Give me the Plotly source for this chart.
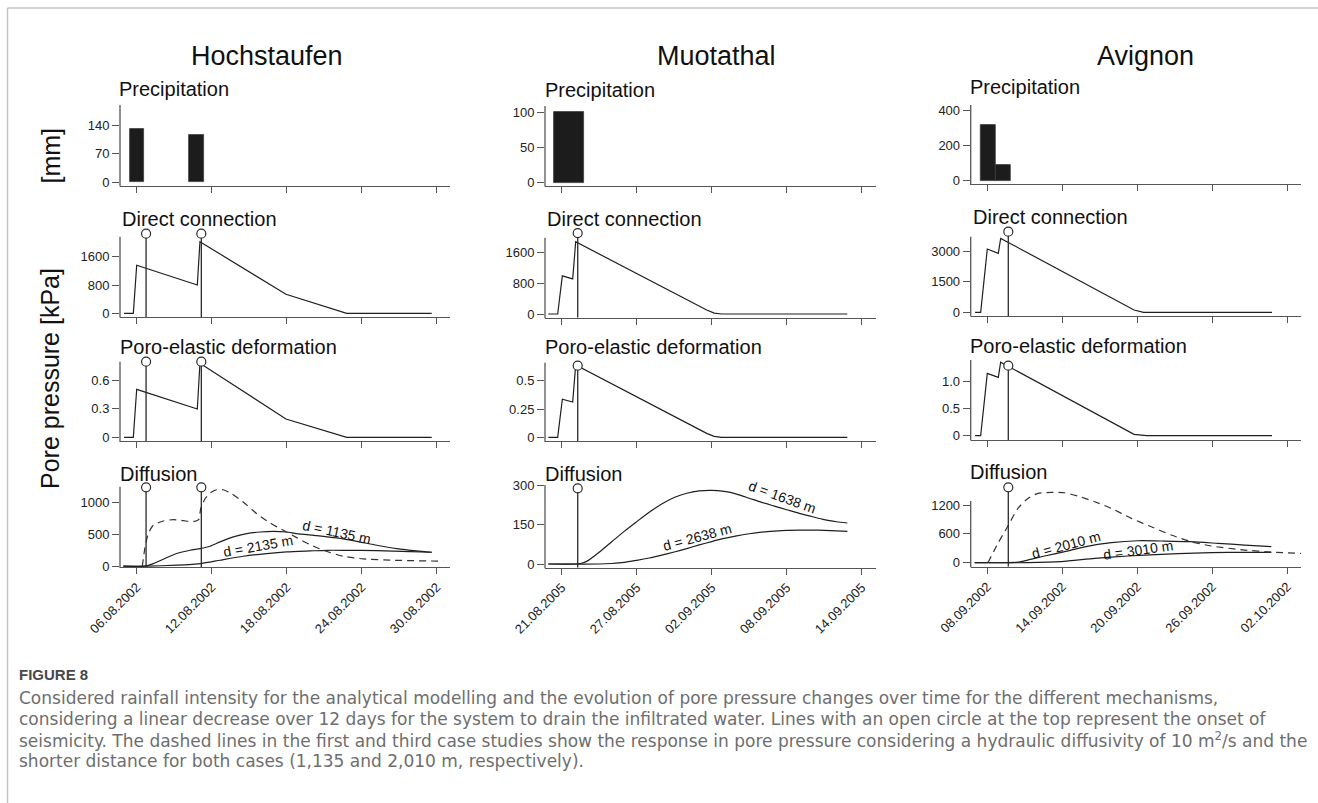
import plotly.graph_objects as go

W, H = 1318, 803
FONT = "Liberation Sans, Arial, sans-serif"
CAP_FONT = "DejaVu Sans, sans-serif"
LINE_C = "#1f1f1f"
AX_C = "#555555"

# ---------------- data (x = days after the first labelled date) ----------------
SITES = ["Hochstaufen", "Muotathal", "Avignon"]
PANEL_NAMES = ["Precipitation", "Direct connection", "Poro-elastic deformation", "Diffusion"]
TICK_DAYS = [0, 6, 12, 18, 24]
DATE_LABELS_HOCH = ["06.08.2002", "12.08.2002", "18.08.2002", "24.08.2002", "30.08.2002"]
DATE_LABELS_MUOT = ["21.08.2005", "27.08.2005", "02.09.2005", "08.09.2005", "14.09.2005"]
DATE_LABELS_AVIG = ["08.09.2002", "14.09.2002", "20.09.2002", "26.09.2002", "02.10.2002"]

# y tick values / labels per panel row
YTICKS_HOCH = [[0, 70, 140], [0, 800, 1600], [0, 0.3, 0.6], [0, 500, 1000]]
YTEXT_HOCH = [["0", "70", "140"], ["0", "800", "1600"], ["0", "0.3", "0.6"], ["0", "500", "1000"]]
YTICKS_MUOT = [[0, 50, 100], [0, 800, 1600], [0, 0.25, 0.5], [0, 150, 300]]
YTEXT_MUOT = [["0", "50", "100"], ["0", "800", "1600"], ["0", "0.25", "0.5"], ["0", "150", "300"]]
YTICKS_AVIG = [[0, 200, 400], [0, 1500, 3000], [0, 0.5, 1.0], [0, 600, 1200]]
YTEXT_AVIG = [["0", "200", "400"], ["0", "1500", "3000"], ["0", "0.5", "1.0"], ["0", "600", "1200"]]

# Precipitation [mm]
precip_day_hoch = [0.04, 4.78]
precip_mm_hoch = [132, 117]
precip_width_hoch = [1.14, 1.2]
precip_day_muot = [0.6]
precip_mm_muot = [100]
precip_width_muot = [2.38]
precip_day_avig = [0.06, 1.24]
precip_mm_avig = [316, 87]
precip_width_avig = [1.18, 1.2]

# Direct connection [kPa]
direct_day_hoch = [-1.01, -0.27, 0.0, 4.85, 5.06, 11.94, 16.8, 23.6]
direct_kpa_hoch = [0, 0, 1357, 800, 2024, 537, 0, 0]
direct_day_muot = [-1.07, -0.32, 0.05, 0.88, 1.12, 11.6, 12.2, 12.8, 22.85]
direct_kpa_muot = [0, 0, 992, 913, 1879, 104, 25, 0, 0]
direct_day_avig = [-0.98, -0.53, 0.0, 0.88, 1.07, 11.74, 12.5, 22.78]
direct_kpa_avig = [0, 0, 3095, 2885, 3619, 112, 0, 0]

# Poro-elastic deformation [kPa]
poro_day_hoch = [-1.01, -0.27, 0.0, 4.85, 5.06, 11.94, 16.8, 23.6]
poro_kpa_hoch = [0, 0, 0.505, 0.298, 0.779, 0.193, 0, 0]
poro_day_muot = [-1.07, -0.32, 0.05, 0.88, 1.12, 11.6, 12.2, 12.8, 22.85]
poro_kpa_muot = [0, 0, 0.336, 0.312, 0.639, 0.035, 0.008, 0, 0]
poro_day_avig = [-0.98, -0.53, 0.0, 0.88, 1.07, 11.74, 12.75, 22.78]
poro_kpa_avig = [0, 0, 1.155, 1.08, 1.36, 0.026, 0, 0]

# Diffusion [kPa]
diff_near_day_hoch = [-1.07, 0.67, 1.33, 2.13, 3.2, 4.27, 5.07, 5.87, 6.67, 7.73, 8.8, 9.87,
                      10.93, 12.0, 12.8, 14.4, 16.0, 17.6, 19.2, 20.8, 22.4, 23.6]
diff_near_kpa_hoch = [0, 0, 41, 109, 197, 248, 274, 311, 378, 456, 507, 533,
                      544, 533, 507, 476, 440, 388, 326, 274, 238, 217]
diff_far_day_hoch = [-1.07, 0.8, 3.2, 5.15, 6.67, 8.53, 10.4, 12.0, 13.87, 15.2, 16.53, 19.2, 21.87, 23.6]
diff_far_kpa_hoch = [0, 0, 16, 41, 93, 155, 197, 223, 238, 248, 248, 243, 228, 217]
diff_d10_day_hoch = [0.45, 0.67, 0.93, 1.33, 2.13, 2.93, 3.73, 4.53, 4.96, 5.12, 5.47, 5.87, 6.4,
                     6.93, 7.6, 8.53, 9.6, 10.67, 11.73, 12.8, 13.87, 14.93, 16.53, 18.13, 20.53, 24.53]
diff_d10_kpa_hoch = [0, 300, 507, 637, 704, 725, 709, 694, 725, 896, 1051, 1139, 1191,
                     1191, 1129, 999, 818, 673, 559, 445, 336, 248, 155, 114, 93, 78]

diff_near_day_muot = [-1.07, 1, 1.5, 2, 3, 4, 5, 6, 7, 8, 9, 10, 11, 12, 13, 14, 15, 16, 17, 18, 19, 20, 21, 22, 22.85]
diff_near_kpa_muot = [0, 0, 2, 10, 45, 85, 125, 162, 198, 230, 255, 271, 280, 282, 278, 268, 252, 236,
                      222, 208, 194, 182, 170, 162, 157]
diff_far_day_muot = [-1.07, 3, 4, 5, 6, 7, 8, 9, 10, 11, 12, 13, 14, 15, 16, 17, 18, 19, 20, 21, 22, 22.85]
diff_far_kpa_muot = [0, 0, 2, 6, 14, 23, 34, 46, 59, 73, 86, 98, 108, 116, 122, 126, 129, 130, 130, 129, 127, 125]

diff_near_day_avig = [-1.01, 1.5, 2.45, 3.25, 4.59, 6.19, 7.79, 9.92, 12.05, 14.19, 16.32, 18.45, 20.59, 22.72]
diff_near_kpa_avig = [0, 0, 10, 55, 140, 229, 330, 416, 457, 450, 437, 402, 367, 333]
diff_far_day_avig = [-1.01, 3.25, 5.92, 8.59, 11.25, 13.92, 16.59, 19.25, 22.72]
diff_far_kpa_avig = [0, 0, 21, 90, 139, 173, 201, 215, 215]
diff_d10_day_avig = [0.05, 0.85, 1.65, 2.45, 3.25, 4.05, 5.12, 6.19, 7.25, 8.59, 9.92, 11.52, 13.12,
                     14.72, 16.32, 17.92, 20.59, 22.72, 25.12]
diff_d10_kpa_avig = [0, 402, 762, 1130, 1337, 1441, 1462, 1455, 1386, 1268, 1130, 922, 748,
                     575, 437, 347, 263, 222, 194]

# Onset of seismicity (day) and height of the open circle in each pressure panel
onset_day_hoch = [0.75, 5.17]
onset_top_hoch = [2250, 0.796, 1229]
onset_day_muot = [1.28]
onset_top_muot = [2106, 0.6325, 290]
onset_day_avig = [1.68]
onset_top_avig = [3945, 1.296, 1568]

# distance labels: (text, day, value, angle)
labels_hoch = [("d = 1135 m", 16.0, 530, 12), ("d = 2135 m", 9.73, 310, -10)]
labels_muot = [("d = 1638 m", 17.65, 256, 20), ("d = 2638 m", 10.85, 104, -15)]
labels_avig = [("d = 2010 m", 6.27, 360, -15), ("d = 3010 m", 12.08, 262, -8)]

# ---------------- layout geometry (pixels) ----------------
PX_PER_DAY = 12.5
COL_LEFT = [120, 545, 970.7]
COL_RIGHT = [450, 876, 1301.3]
COL_TICK0 = [136.7, 561.7, 987.3]
# per column, per row: (zero_px, ref_val, ref_px, axis_bottom_px, axis_top_px)
ROW_GEOM = [
    [(182, 140, 125.3, 185.7, 105), (313.3, 1600, 256.7, 317, 236.7),
     (437.3, 0.6, 380.3, 441.3, 361.7), (566.2, 1000, 502, 567.3, 486.7)],
    [(182.7, 100, 112, 186, 106), (314, 1600, 252.5, 317.7, 237.7),
     (437.3, 0.5, 380.7, 441.3, 362.7), (564, 300, 485.7, 567.7, 485)],
    [(180.7, 400, 110, 184.3, 105), (312.3, 3000, 251, 316, 236.7),
     (435.7, 1.0, 381.7, 440, 360), (562.7, 1200, 505, 566.7, 501)],
]
EXTRA_TOP = 24

TITLE_X = [266.5, 716.7, 1145.3]
LABEL_X = [[117.3, 120, 118.3, 118.3], [542.7, 545, 542.7, 542.7], [968, 970.7, 968, 968]]
LABEL_Y = [[89, 219, 347.5, 474], [89.7, 219, 347.5, 474], [87, 217, 345.7, 472]]

site_data = [
    dict(dates=DATE_LABELS_HOCH, yt=YTICKS_HOCH, ytt=YTEXT_HOCH,
         pday=precip_day_hoch, pmm=precip_mm_hoch, pw=precip_width_hoch,
         dday=direct_day_hoch, dkpa=direct_kpa_hoch, eday=poro_day_hoch, ekpa=poro_kpa_hoch,
         diff=[(diff_near_day_hoch, diff_near_kpa_hoch, "solid"), (diff_far_day_hoch, diff_far_kpa_hoch, "solid"),
               (diff_d10_day_hoch, diff_d10_kpa_hoch, "dash")],
         onset=onset_day_hoch, otop=onset_top_hoch, labels=labels_hoch),
    dict(dates=DATE_LABELS_MUOT, yt=YTICKS_MUOT, ytt=YTEXT_MUOT,
         pday=precip_day_muot, pmm=precip_mm_muot, pw=precip_width_muot,
         dday=direct_day_muot, dkpa=direct_kpa_muot, eday=poro_day_muot, ekpa=poro_kpa_muot,
         diff=[(diff_near_day_muot, diff_near_kpa_muot, "solid"), (diff_far_day_muot, diff_far_kpa_muot, "solid")],
         onset=onset_day_muot, otop=onset_top_muot, labels=labels_muot),
    dict(dates=DATE_LABELS_AVIG, yt=YTICKS_AVIG, ytt=YTEXT_AVIG,
         pday=precip_day_avig, pmm=precip_mm_avig, pw=precip_width_avig,
         dday=direct_day_avig, dkpa=direct_kpa_avig, eday=poro_day_avig, ekpa=poro_kpa_avig,
         diff=[(diff_near_day_avig, diff_near_kpa_avig, "solid"), (diff_far_day_avig, diff_far_kpa_avig, "solid"),
               (diff_d10_day_avig, diff_d10_kpa_avig, "dash")],
         onset=onset_day_avig, otop=onset_top_avig, labels=labels_avig),
]

fig = go.Figure()
layout = {}
shapes = []
annotations = []


def ann(text, x, y, size, xanchor="center", yanchor="middle", angle=0, color="#111111",
        family=FONT, xref="paper", yref="paper", weight=None):
    f = dict(family=family, size=size, color=color)
    if weight:
        f["weight"] = weight
    annotations.append(dict(text=text, x=x, y=y, xref=xref, yref=yref, showarrow=False,
                            xanchor=xanchor, yanchor=yanchor, textangle=angle, font=f))


for c, sd in enumerate(site_data):
    xl, xr, t0 = COL_LEFT[c], COL_RIGHT[c], COL_TICK0[c]
    xrange = [(xl - t0) / PX_PER_DAY, (xr - t0) / PX_PER_DAY]
    ann(SITES[c], TITLE_X[c] / W, 1 - 56 / H, 27)
    for r in range(4):
        k = c * 4 + r + 1
        zero_px, ref_val, ref_px, bot_px, top_px = ROW_GEOM[c][r]
        upp = ref_val / (zero_px - ref_px)
        top_ext = top_px - EXTRA_TOP
        yrange = [(zero_px - bot_px) * upp, (zero_px - top_ext) * upp]
        xa, ya = f"x{k}", f"y{k}"
        layout[f"xaxis{k}"] = dict(
            domain=[xl / W, xr / W], range=xrange, anchor=ya, automargin=False,
            tickmode="array", tickvals=TICK_DAYS, ticktext=sd["dates"],
            showticklabels=(r == 3), tickangle=-45,
            ticks="outside", ticklen=6, tickwidth=1.2, tickcolor=AX_C,
            showline=True, linecolor=AX_C, linewidth=1.3,
            showgrid=False, zeroline=False,
            tickfont=dict(family=FONT, size=13, color="#222222"))
        layout[f"yaxis{k}"] = dict(
            domain=[1 - bot_px / H, 1 - top_ext / H], range=yrange, anchor=xa, automargin=False,
            tickmode="array", tickvals=sd["yt"][r], ticktext=sd["ytt"][r],
            ticks="outside", ticklen=7, tickwidth=1.2, tickcolor=AX_C,
            showline=False, showgrid=False, zeroline=False,
            tickfont=dict(family=FONT, size=13, color="#222222"))
        # visible y-axis line (ends below the top of the plotting area)
        shapes.append(dict(type="line", xref="paper", yref="paper",
                           x0=xl / W, x1=xl / W, y0=1 - (bot_px + 0.6) / H, y1=1 - top_px / H,
                           line=dict(color=AX_C, width=1.3)))
        ann(PANEL_NAMES[r], LABEL_X[c][r] / W, 1 - LABEL_Y[c][r] / H, 20, xanchor="left")

        if r == 0:
            fig.add_trace(go.Bar(x=sd["pday"], y=sd["pmm"], width=sd["pw"], xaxis=xa, yaxis=ya,
                                 marker=dict(color="#1c1c1c", line=dict(color="#3c3c3c", width=0.8))))
            continue
        if r == 1:
            fig.add_trace(go.Scatter(x=sd["dday"], y=sd["dkpa"], mode="lines", xaxis=xa, yaxis=ya,
                                     line=dict(color=LINE_C, width=1.2)))
        elif r == 2:
            fig.add_trace(go.Scatter(x=sd["eday"], y=sd["ekpa"], mode="lines", xaxis=xa, yaxis=ya,
                                     line=dict(color=LINE_C, width=1.2)))
        else:
            for dd, vv, style in sd["diff"]:
                fig.add_trace(go.Scatter(x=dd, y=vv, mode="lines", xaxis=xa, yaxis=ya,
                                         line=dict(color=LINE_C if style == "solid" else "#333333",
                                                   width=1.2, dash=("7px,5px" if style == "dash" else "solid"),
                                                   shape="spline", smoothing=0.6)))
            for text, dx, dy, ang in sd["labels"]:
                ann(text, dx, dy, 14, angle=ang, xref=xa, yref=ya)
        # onset of seismicity
        top_val = sd["otop"][r - 1]
        for od in sd["onset"]:
            fig.add_trace(go.Scatter(x=[od, od], y=[yrange[0], top_val], mode="lines", xaxis=xa, yaxis=ya,
                                     line=dict(color="#2a2a2a", width=1.3)))
            fig.add_trace(go.Scatter(x=[od], y=[top_val], mode="markers", xaxis=xa, yaxis=ya, cliponaxis=False,
                                     marker=dict(symbol="circle", size=9, color="white",
                                                 line=dict(color="#2a2a2a", width=1.2))))

# axis titles
ann("[mm]", 50 / W, 1 - 155.5 / H, 25, angle=-90)
ann("Pore pressure [kPa]", 50 / W, 1 - 379 / H, 25, angle=-90)

# caption
ann("FIGURE 8", 17 / W, 1 - 674 / H, 15, xanchor="left", color="#484848", family=FONT, weight="bold")
CAPTION = [
    "Considered rainfall intensity for the analytical modelling and the evolution of pore pressure changes over time for the different mechanisms,",
    "considering a linear decrease over 12 days for the system to drain the infiltrated water. Lines with an open circle at the top represent the onset of",
    "seismicity. The dashed lines in the first and third case studies show the response in pore pressure considering a hydraulic diffusivity of 10 m<sup>2</sup>/s and the",
    "shorter distance for both cases (1,135 and 2,010 m, respectively).",
]
CAP_Y = [698, 719, 740, 761]
for line, yy in zip(CAPTION, CAP_Y):
    ann(line, 17 / W, 1 - yy / H, 17, xanchor="left", color="#6e6e6e", family=CAP_FONT)

# frame lines
shapes.append(dict(type="line", xref="paper", yref="paper", x0=7.5 / W, x1=1, y0=1 - 8 / H, y1=1 - 8 / H,
                   line=dict(color="#c4c4c4", width=1.5)))
shapes.append(dict(type="line", xref="paper", yref="paper", x0=7.5 / W, x1=7.5 / W, y0=0, y1=1 - 8 / H,
                   line=dict(color="#c4c4c4", width=1.5)))

fig.update_layout(**layout)
fig.update_layout(width=W, height=H, autosize=False, margin=dict(l=0, r=0, t=0, b=0, pad=0),
                  paper_bgcolor="white", plot_bgcolor="rgba(0,0,0,0)", showlegend=False,
                  shapes=shapes, annotations=annotations, bargap=0,
                  font=dict(family=FONT, color="#111111"))
fig.write_html("out.html")
